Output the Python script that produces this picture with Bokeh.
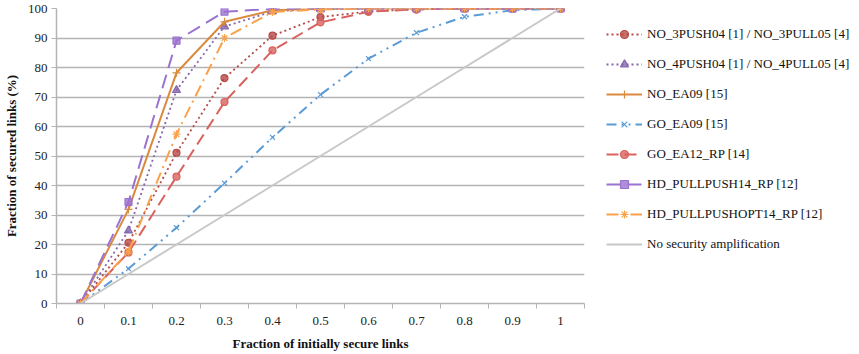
from bokeh.plotting import figure
from bokeh.models import Range1d, FixedTicker, Legend, LegendItem
from bokeh.embed import file_html
from bokeh.resources import INLINE

x_vals = [0, 0.1, 0.2, 0.3, 0.4, 0.5, 0.6, 0.7, 0.8, 0.9, 1.0]
x_labels = ["0", "0.1", "0.2", "0.3", "0.4", "0.5", "0.6", "0.7", "0.8", "0.9", "1"]
y_ticks = [0, 10, 20, 30, 40, 50, 60, 70, 80, 90, 100]

no_3push = [0, 20.6, 51.1, 76.4, 90.8, 97.1, 99.0, 99.7, 100, 100, 100]
no_4push = [0, 24.7, 72.3, 93.9, 99.0, 99.9, 100, 100, 100, 100, 100]
no_ea09 = [0, 31.9, 78.2, 95.5, 99.4, 99.9, 100, 100, 100, 100, 100]
go_ea09 = [0, 11.8, 25.7, 40.8, 56.3, 70.8, 83.0, 91.8, 97.2, 99.4, 100]
go_ea12 = [0, 17.3, 43.0, 68.3, 85.8, 95.3, 98.9, 99.7, 100, 100, 100]
hd_pullpush = [0, 34.4, 89.1, 98.9, 99.9, 100, 100, 100, 100, 100, 100]
hd_pullpushopt = [0, 17.6, 57.4, 90.0, 98.8, 99.7, 100, 100, 100, 100, 100]
no_amplification = [0, 10, 20, 30, 40, 50, 60, 70, 80, 90, 100]

labels = [
    "NO_3PUSH04 [1] / NO_3PULL05 [4]",
    "NO_4PUSH04 [1] / NO_4PULL05 [4]",
    "NO_EA09 [15]",
    "GO_EA09 [15]",
    "GO_EA12_RP [14]",
    "HD_PULLPUSH14_RP [12]",
    "HD_PULLPUSHOPT14_RP [12]",
    "No security amplification",
]

FONT = "Liberation Serif"
GRID = "#b4b4b4"

p = figure(frame_width=528, frame_height=295, output_backend="svg",
           toolbar_location=None, x_range=Range1d(-0.05, 1.05),
           y_range=Range1d(0, 100), min_border_left=49, min_border_top=8,
           min_border_right=266, min_border_bottom=0)
p.outline_line_color = None
p.background_fill_color = "white"
p.border_fill_color = "white"

series = [
    (no_3push, "#b84a47", "2 3", "circle", 7, 1.8),
    (no_4push, "#8466ad", "2 3", "triangle", 8, 1.8),
    (no_ea09, "#d98a3e", "solid", "cross", 8, 2.0),
    (go_ea09, "#5b9bd5", "10 5 2 5 2 5", "x", 7, 2.0),
    (go_ea12, "#d9625e", "12 6", "circle", 7, 2.0),
    (hd_pullpush, "#9a72d0", "14 7", "square", 7, 2.0),
    (hd_pullpushopt, "#f9a24b", "12 5 2 5", "asterisk", 8, 2.0),
]

items = []
for (ys, col, dash, mk, sz, lw), lab in zip(series, labels[:7]):
    lr = p.line(x_vals, ys, line_color=col, line_width=lw, line_dash=dash)
    mr = p.scatter(x_vals, ys, marker=mk, size=sz, line_color=col,
                   fill_color=col, fill_alpha=0.8, line_width=1.2)
    items.append(LegendItem(label=lab, renderers=[lr, mr]))

gr = p.line(x_vals, no_amplification, line_color="#c8c8c8", line_width=2)
items.append(LegendItem(label=labels[7], renderers=[gr]))

# axes
p.xaxis.ticker = FixedTicker(ticks=x_vals,
                             minor_ticks=[v - 0.05 for v in x_vals] + [1.05])
p.xaxis.major_label_overrides = {v: l for v, l in zip(x_vals, x_labels)}
p.xaxis.major_tick_out = 0
p.xaxis.major_tick_in = 0
p.xaxis.minor_tick_out = 5
p.xaxis.minor_tick_in = 0
p.xaxis.minor_tick_line_color = GRID
p.xaxis.axis_line_color = GRID
p.xaxis.axis_line_width = 1.5
p.xaxis.axis_label = "Fraction of initially secure links"
p.xaxis.major_label_standoff = 8

p.yaxis.ticker = FixedTicker(ticks=y_ticks)
p.yaxis.major_tick_out = 5
p.yaxis.major_tick_in = 0
p.yaxis.minor_tick_line_color = None
p.yaxis.major_tick_line_color = GRID
p.yaxis.axis_line_color = GRID
p.yaxis.axis_line_width = 1.5
p.yaxis.axis_label = "Fraction of secured links (%)"
p.yaxis.major_label_standoff = 4

for ax in (p.xaxis, p.yaxis):
    ax.major_label_text_font = FONT
    ax.major_label_text_font_size = "13px"
    ax.major_label_text_color = "#222222"
    ax.axis_label_text_font = FONT
    ax.axis_label_text_font_size = "13px"
    ax.axis_label_text_font_style = "bold"
    ax.axis_label_text_color = "#111111"
p.xaxis.axis_label_standoff = 8
p.yaxis.axis_label_standoff = 6

p.xgrid.grid_line_color = None
p.ygrid.grid_line_color = GRID
p.ygrid.grid_line_width = 1.5
p.ygrid.ticker = FixedTicker(ticks=y_ticks)

legend = Legend(items=items, location=(22, 49), margin=0, padding=0,
                spacing=10, glyph_height=20, label_height=20, glyph_width=36,
                label_standoff=5, label_text_font=FONT,
                label_text_font_size="13px", label_text_color="#111111",
                border_line_alpha=0, background_fill_alpha=0)
p.add_layout(legend, "right")

open("out.html", "w").write(file_html(p, INLINE))
